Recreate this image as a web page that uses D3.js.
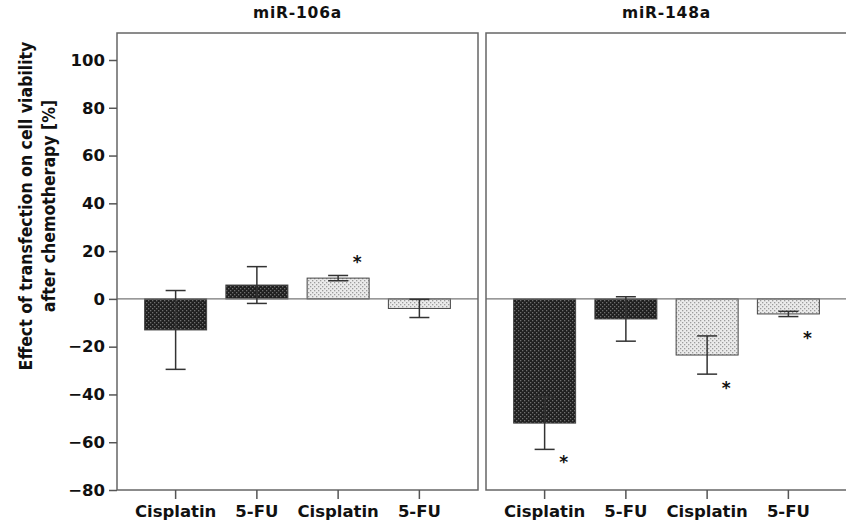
<!DOCTYPE html>
<meta charset="utf-8">
<style>
body{margin:0;background:white}
text{font-family:"DejaVu Sans",sans-serif;font-weight:bold;fill:#111}
.frame{fill:none;stroke:#666;stroke-width:1.5px}
.zero{stroke:#777;stroke-width:1.3px}
.err line{stroke:#333;stroke-width:1.5px}
.bar{stroke:#444;stroke-width:1px}
</style>
<svg width="846" height="530"></svg>
<script src="https://d3js.org/d3.v7.min.js"></script>
<script>

// data
var panels = ["miR-106a", "miR-148a"];
var categories = ["Cisplatin", "5-FU", "Cisplatin", "5-FU"];
var shades = ["dark", "dark", "light", "light"];
var means106 = [-13, 5.8, 8.7, -4];
var err106 = [16.5, 7.7, 1.1, 3.8];
var means148 = [-52, -8.4, -23.5, -6.3];
var err148 = [11, 9.3, 8, 1.1];
var star106 = [null, null, 16.5, null];
var star148 = [-67, null, -36, -15.3];
var yTicks = [100, 80, 60, 40, 20, 0, -20, -40, -60, -80];

var svg = d3.select("svg");

// textures for the bars
var defs = svg.append("defs");
function dots(id, bg, fg) {
  var p = defs.append("pattern").attr("id", id)
      .attr("patternUnits", "userSpaceOnUse").attr("width", 4).attr("height", 4);
  p.append("rect").attr("width", 4).attr("height", 4).attr("fill", bg);
  p.append("rect").attr("x", 0).attr("y", 0).attr("width", 1.3).attr("height", 1.3).attr("fill", fg);
  p.append("rect").attr("x", 2).attr("y", 2).attr("width", 1.3).attr("height", 1.3).attr("fill", fg);
}
dots("dark", "#1f1f1f", "#6e6e6e");
dots("light", "#ebebeb", "#9c9c9c");

var y = d3.scaleLinear().domain([-80, 100]).range([490, 60]);
var frameTop = y(111.3), frameBottom = y(-80);

var panelData = [
  {title: panels[0], x0: 117, x1: 478, means: means106, errs: err106, stars: star106},
  {title: panels[1], x0: 486, x1: 847, means: means148, errs: err148, stars: star148}
];

panelData.forEach(function(p, pi) {
  var x = d3.scaleBand().domain(d3.range(categories.length))
      .range([p.x0, p.x1]).paddingInner(0.237).paddingOuter(0.34);
  var g = svg.append("g");

  // bars
  g.selectAll(".bar")
    .data(p.means)
    .enter().append("rect")
      .attr("class", "bar")
      .attr("x", function(d, i) { return x(i); })
      .attr("width", x.bandwidth())
      .attr("y", function(d) { return y(Math.max(0, d)); })
      .attr("height", function(d) { return Math.abs(y(d) - y(0)); })
      .attr("fill", function(d, i) { return "url(#" + shades[i] + ")"; });

  g.append("line").attr("class", "zero")
      .attr("x1", p.x0).attr("x2", p.x1).attr("y1", y(0)).attr("y2", y(0));

  // error bars
  var err = g.selectAll(".err")
    .data(p.means)
    .enter().append("g").attr("class", "err")
      .attr("transform", function(d, i) { return "translate(" + (x(i) + x.bandwidth() / 2) + ",0)"; });
  err.append("line")
      .attr("y1", function(d, i) { return y(d + p.errs[i]); })
      .attr("y2", function(d, i) { return y(d - p.errs[i]); });
  err.append("line").attr("x1", -10).attr("x2", 10)
      .attr("y1", function(d, i) { return y(d + p.errs[i]); })
      .attr("y2", function(d, i) { return y(d + p.errs[i]); });
  err.append("line").attr("x1", -10).attr("x2", 10)
      .attr("y1", function(d, i) { return y(d - p.errs[i]); })
      .attr("y2", function(d, i) { return y(d - p.errs[i]); });

  // significance stars
  g.selectAll(".star")
    .data(p.stars.map(function(s, i) { return {v: s, i: i}; }).filter(function(d) { return d.v != null; }))
    .enter().append("text")
      .attr("x", function(d) { return x(d.i) + x.bandwidth() / 2 + 19; })
      .attr("y", function(d) { return y(d.v) + 9; })
      .attr("text-anchor", "middle")
      .style("font-size", "17px")
      .text("*");

  g.append("rect").attr("class", "frame")
      .attr("x", p.x0).attr("y", frameTop)
      .attr("width", p.x1 - p.x0).attr("height", frameBottom - frameTop);

  // x axis
  var xAxis = g.append("g")
      .attr("transform", "translate(0," + frameBottom + ")")
      .call(d3.axisBottom(x).tickSize(9).tickPadding(6)
        .tickFormat(function(i) { return categories[i]; }));
  xAxis.select(".domain").remove();
  xAxis.selectAll("line").attr("stroke", "#555").attr("stroke-width", 1.5);
  xAxis.selectAll("text").style("font-size", "16.5px").attr("fill", "#111");

  g.append("text")
      .attr("x", (p.x0 + p.x1) / 2).attr("y", 18)
      .attr("text-anchor", "middle")
      .style("font-size", "15.5px").style("letter-spacing", "0.8px")
      .text(p.title);

  if (pi == 0) {
    var yAxis = g.append("g")
        .attr("transform", "translate(" + p.x0 + ",0)")
        .call(d3.axisLeft(y).tickValues(yTicks).tickSize(8).tickPadding(4));
    yAxis.select(".domain").remove();
    yAxis.selectAll("line").attr("stroke", "#555").attr("stroke-width", 1.5);
    yAxis.selectAll("text").style("font-size", "16.5px").attr("fill", "#111");
  }
});

// y axis title, two lines
var yTitle = svg.append("text")
    .attr("transform", "translate(38,206) rotate(-90)")
    .attr("text-anchor", "middle")
    .style("font-family", "'DejaVu Sans Condensed', 'DejaVu Sans', sans-serif")
    .style("font-size", "17.5px");
yTitle.append("tspan").attr("x", 0).attr("dy", "-0.35em").text("Effect of transfection on cell viability");
yTitle.append("tspan").attr("x", 0).attr("dy", "1.3em").text("after chemotherapy [%]");

</script>
